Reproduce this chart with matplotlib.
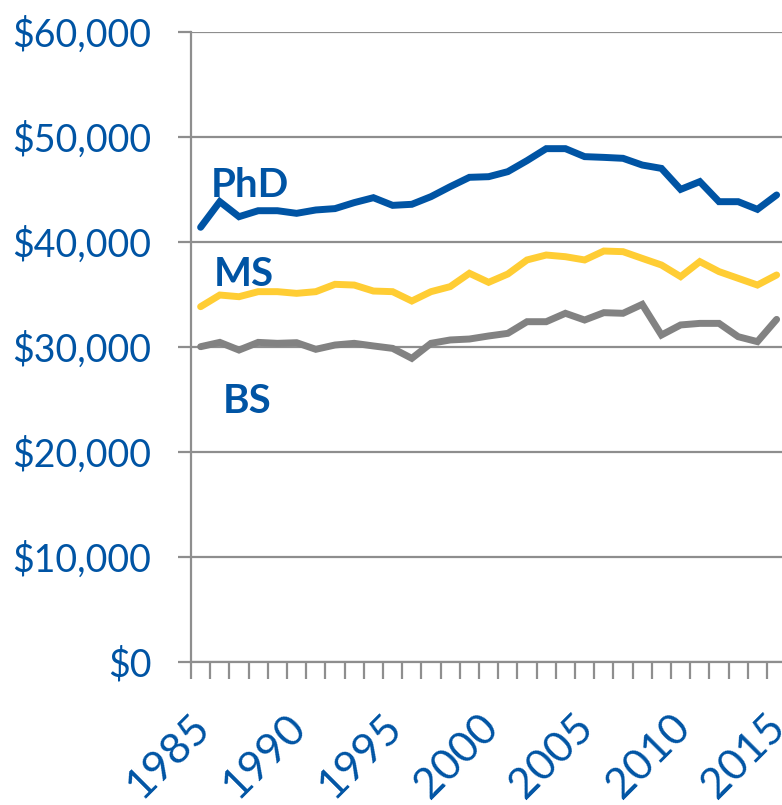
import matplotlib
matplotlib.use("Agg")
import matplotlib.pyplot as plt
from matplotlib.ticker import FixedLocator, FuncFormatter, NullFormatter

years = list(range(1985, 2016))
phd = [41400, 43840, 42410, 42980, 42980, 42730, 43050, 43180, 43750, 44220,
       43490, 43590, 44320, 45270, 46160, 46220, 46700, 47750, 48890, 48890,
       48130, 48060, 47970, 47330, 47010, 45010, 45750, 43840, 43840, 43110, 44480]
ms = [33840, 34950, 34790, 35270, 35270, 35110, 35270, 35970, 35900, 35330,
      35270, 34380, 35270, 35750, 37020, 36160, 36950, 38290, 38760, 38600,
      38290, 39140, 39080, 38440, 37810, 36700, 38130, 37180, 36540, 35900, 36860]
bs = [30030, 30440, 29710, 30440, 30350, 30410, 29780, 30190, 30350, 30100,
      29870, 28920, 30350, 30670, 30760, 31050, 31300, 32410, 32410, 33210,
      32570, 33270, 33210, 34060, 31140, 32100, 32250, 32250, 30980, 30510, 32630]
series_names = ["PhD", "MS", "BS"]
year_labels = [1985, 1990, 1995, 2000, 2005, 2010, 2015]
y_ticks = [0, 10000, 20000, 30000, 40000, 50000, 60000]

BLUE = "#0054A4"
YELLOW = "#FFCD34"
GRAY = "#828282"
GRID = "#8E8E8E"

plt.rcParams['font.family'] = ['Lato', 'DejaVu Sans']

fig = plt.figure(figsize=(7.82, 8.05), dpi=100)
ax = fig.add_axes([191/782, (805-662)/805, 591/782, 630/805])

x = list(range(len(years)))
ax.plot(x, bs, color=GRAY, lw=5, solid_capstyle='round', solid_joinstyle='miter', zorder=3)
ax.plot(x, ms, color=YELLOW, lw=5, solid_capstyle='round', solid_joinstyle='miter', zorder=3)
ax.plot(x, phd, color=BLUE, lw=5, solid_capstyle='round', solid_joinstyle='miter', zorder=3)

ax.set_xlim(-0.5, 30.28)
ax.set_ylim(0, 60000)

for sp in ['top', 'right']:
    ax.spines[sp].set_visible(False)
for sp in ['left', 'bottom']:
    ax.spines[sp].set_color(GRID)
    ax.spines[sp].set_linewidth(1.6)

ax.set_yticks(y_ticks)
ax.yaxis.set_major_formatter(FuncFormatter(lambda v, p: "${:,.0f}".format(v)))
ax.tick_params(axis='y', length=9.5, width=1.6, color=GRID, pad=19,
               labelsize=27, labelcolor=BLUE)
ax.yaxis.grid(True, color=GRID, lw=1.6)
ax.set_axisbelow(True)

ax.set_xticks([])
ax.xaxis.set_minor_locator(FixedLocator([i - 0.5 for i in range(len(years) + 1)]))
ax.xaxis.set_minor_formatter(NullFormatter())
ax.tick_params(axis='x', which='minor', length=12, width=1.6, color=GRID)

for yr in year_labels:
    ax.annotate(str(yr), xy=(years.index(yr), 0), xycoords='data',
                xytext=(2, -42.5), textcoords='offset points',
                rotation=45, rotation_mode='anchor', ha='right', va='center',
                fontsize=31, color=BLUE, annotation_clip=False)

ax.text(0.52, 44290, series_names[0], color=BLUE, fontsize=29, fontweight='bold', va='baseline', ha='left')
ax.text(0.69, 35840, series_names[1], color=BLUE, fontsize=29, fontweight='bold', va='baseline', ha='left')
ax.text(1.16, 23710, series_names[2], color=BLUE, fontsize=29, fontweight='bold', va='baseline', ha='left')

fig.savefig("out.png", dpi=100)
